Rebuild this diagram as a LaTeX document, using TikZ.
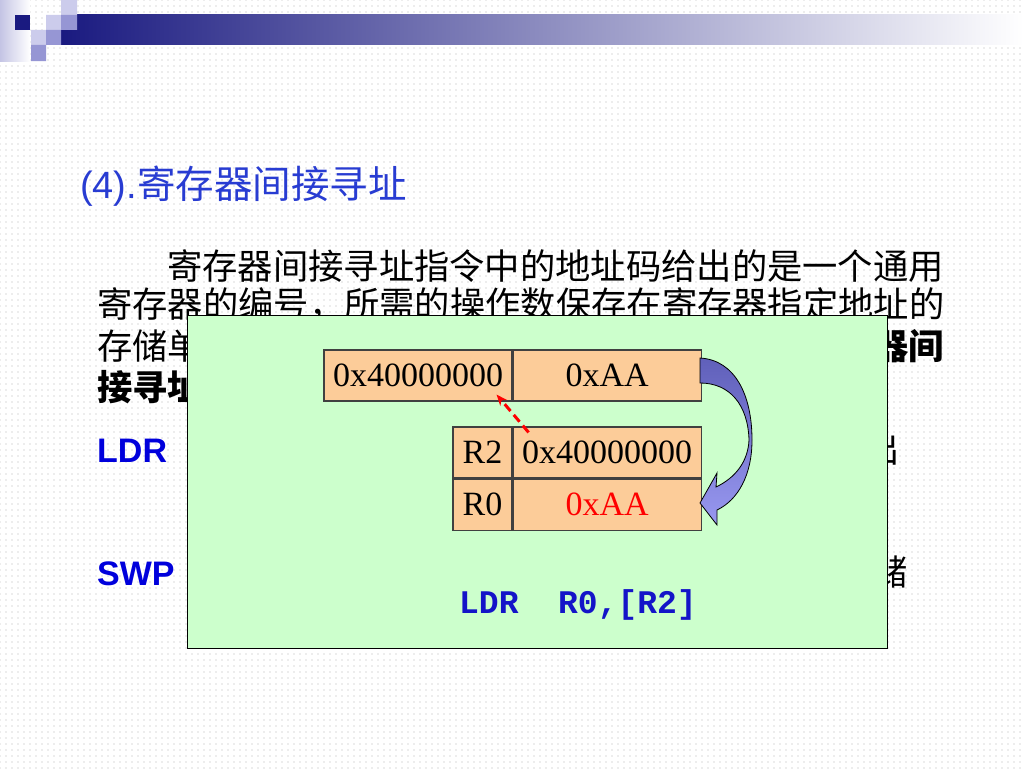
\documentclass[tikz,border=0pt]{standalone}
\usepackage{fontspec}
\setmainfont{Liberation Serif}
\setmonofont{Liberation Mono}
\newfontfamily\cjk{Noto Sans CJK SC}
\newfontfamily\arial{Liberation Sans}
\usepackage{tikz}
\usetikzlibrary{calc}
\usetikzlibrary{arrows.meta}
\usetikzlibrary{positioning}
\usetikzlibrary{patterns.meta}
\definecolor{titleblue}{RGB}{40,60,210}
\definecolor{cmdblue}{RGB}{0,0,220}
\definecolor{codeblue}{RGB}{20,20,200}
\definecolor{navy}{RGB}{26,26,128}
\definecolor{barmid}{RGB}{150,150,180}
\definecolor{lav}{RGB}{204,204,236}
\definecolor{midlav}{RGB}{150,150,212}
\definecolor{striplav}{RGB}{196,196,228}
\definecolor{panelgreen}{RGB}{204,255,204}
\definecolor{cellorange}{RGB}{252,204,153}
\definecolor{arrowtop}{RGB}{96,96,186}
\definecolor{arrowbot}{RGB}{152,152,240}

\begin{document}
\begin{tikzpicture}[x=1pt, y=-1pt, node distance=0pt,
  cell/.style={
    % The shape:
    rectangle,
    minimum height=51pt, inner sep=0pt,
    % The border:
    draw=black!75, line width=1.2pt,
    % The filling:
    fill=cellorange,
    font=\fontsize{34}{34}\selectfont},
  para/.style={anchor=base west, inner sep=0pt,
    font=\cjk\fontsize{35.3}{36}\selectfont},
  parabold/.style={para, font=\cjk\bfseries\fontsize{35.3}{36}\selectfont},
  cmd/.style={anchor=base west, inner sep=0pt, text=cmdblue,
    font=\arial\bfseries\fontsize{34}{34}\selectfont},
  >={Stealth[length=11pt, width=9pt]}]

  \useasboundingbox (0,0) rectangle (1024,768);
  % slide background
  \fill[white] (0,0) rectangle (1024,768);
  \fill[pattern={Dots[radius=0.6pt, distance=6pt]}, pattern color=black!30] (0,0) rectangle (1024,768);
  \shade[left color=striplav, right color=white] (0,0) rectangle (30,61);
  \shade[left color=navy, middle color=barmid, right color=white] (61,15) rectangle (1024,45);
  \fill[navy] (15,15) rectangle (30,30);
  \fill[lav] (46,15) rectangle (61,30) (61,0) rectangle (77,15) (31,30) rectangle (46,45);
  \fill[midlav] (61,15) rectangle (77,30) (46,30) rectangle (61,45) (31,45) rectangle (46,61);

  \node (title) [anchor=base west, inner sep=0pt, text=titleblue] at (80,198)
    {\arial\fontsize{38}{38}\selectfont (4).\cjk\fontsize{38.5}{38}\selectfont 寄存器间接寻址};

  \node (pone) [para] at (167,279) {寄存器间接寻址指令中的地址码给出的是一个通用};
  \node (ptwo) [para] at (97,317) {寄存器的编号，所需的操作数保存在寄存器指定地址的};
  \node (pthree) [para] at (97,359) {存储单};
  \node (pthreeend) [parabold, anchor=base east] at (944,359) {器间};
  \node (pfour) [parabold] at (97,400) {接寻址};

  \node (ldr) [cmd] at (97,462) {LDR};
  \node (ldrend) [para] at (864,462) {出};
  \node (swp) [cmd] at (97,585) {SWP};
  \node (swpend) [para] at (872,585) {储};

  % overlay panel
  \node (panel) [anchor=north west, draw=black, line width=1.4pt, fill=panelgreen,
    minimum width=700pt, minimum height=333pt, inner sep=0pt] at (187,315) {};

  \node (addr) [cell, minimum width=188pt] at (418,375.5) {0x40000000};
  \node (mval) [cell, minimum width=188pt, right=of addr] {0xAA};

  \node (rtwo) [cell, minimum width=59pt] at (482.5,452.5) {R2};
  \node (rtwoval) [cell, minimum width=188pt, right=of rtwo] {0x40000000};
  \node (rzero) [cell, minimum width=59pt, below=of rtwo] {R0};
  \node (rzeroval) [cell, minimum width=188pt, right=of rzero, text=red] {0xAA};

  \coordinate (ptr) at ([xshift=16pt, yshift=-6pt]rtwoval.north west);
  \coordinate (tgt) at ([xshift=-16pt, yshift=7pt]addr.south east);
  \draw[->, red, line width=3pt, dash pattern=on 9pt off 5pt] (ptr) -- (tgt);

  % curved block arrow
  \path[draw=black, line width=0.8pt, top color=arrowtop, bottom color=arrowbot]
    (700,358) .. controls (735,360) and (752,395) .. (752,440)
    .. controls (752,475) and (738,500) .. (717,510)
    -- (717,525) -- (700,503) -- (717,473) -- (716,487)
    .. controls (735,478) and (748,462) .. (749,440)
    .. controls (748,405) and (730,383) .. (700,383) -- cycle;

  \node (code) [anchor=base, inner sep=0pt, text=codeblue,
    font=\ttfamily\bfseries\fontsize{33}{33}\selectfont] at (578,613) {LDR~~R0,[R2]};
\end{tikzpicture}
\end{document}
